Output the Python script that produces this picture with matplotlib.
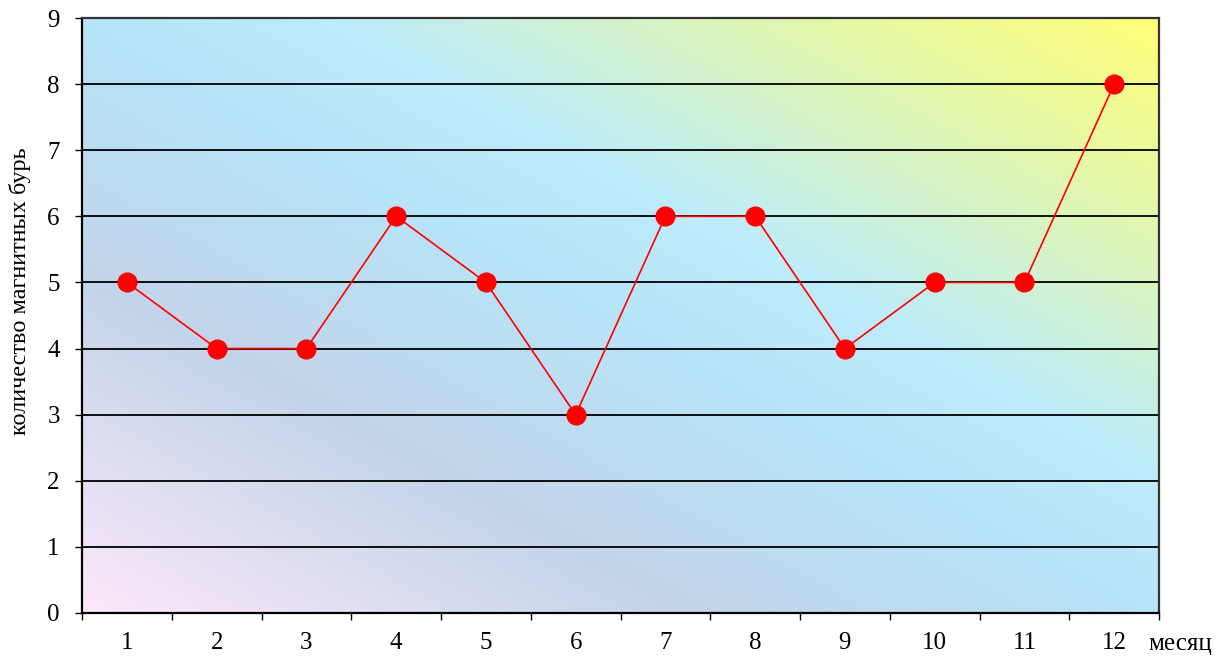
import numpy as np
import matplotlib
matplotlib.use("Agg")
import matplotlib.pyplot as plt
from matplotlib.colors import LinearSegmentedColormap

months = [1, 2, 3, 4, 5, 6, 7, 8, 9, 10, 11, 12]
storms = [5, 4, 4, 6, 5, 3, 6, 6, 4, 5, 5, 8]
y_ticks = list(range(0, 10))
x_label = "месяц"
y_label = "количество магнитных бурь"

plt.rcParams['font.family'] = ['Liberation Serif', 'DejaVu Serif']

fig = plt.figure(figsize=(12.26, 6.57), dpi=100)
ax = fig.add_axes([0.0669, 0.067, 0.8785, 0.9056])

# diagonal gradient background from lower-left to upper-right
grad_cmap = LinearSegmentedColormap.from_list(
    "bg",
    [(0.0, "#fbe8f8"), (0.28, "#c3d4ea"), (0.5, "#b7e4f7"),
     (0.62, "#beecfa"), (0.85, "#e6f8a6"), (1.0, "#fffe78")])
u = np.linspace(0, 1, 400)
v = np.linspace(0, 1, 300)
U, V = np.meshgrid(u, v)
T = (U + V) / 2
ax.imshow(T, cmap=grad_cmap, vmin=0, vmax=1, origin="lower",
          extent=[0, 1, 0, 1], transform=ax.transAxes, aspect="auto",
          zorder=0, interpolation="bilinear")

ax.set_xlim(0.5, 12.5)
ax.set_ylim(0, 9)

for yv in y_ticks[1:-1]:
    ax.axhline(yv, color="black", linewidth=1.3, zorder=1)

ax.plot(months, storms, color="#ff0000", linewidth=1.2, marker="o",
        markersize=13.5, markerfacecolor="#ff0000", markeredgecolor="#ff0000",
        zorder=3)

ax.set_yticks(y_ticks)
ax.set_yticklabels([str(t) for t in y_ticks], fontsize=18)
ax.set_xticks(np.arange(0.5, 13.0, 1.0))
ax.set_xticklabels([])
ax.set_xticks(months, minor=True)
ax.set_xticklabels([str(m) for m in months], minor=True, fontsize=18)
ax.tick_params(axis="y", direction="out", length=5, width=1, pad=11)
ax.tick_params(axis="x", which="major", direction="out", length=5, width=1)
ax.tick_params(axis="x", which="minor", length=0, pad=14)

for side in ["left", "bottom"]:
    ax.spines[side].set_linewidth(1.6)
    ax.spines[side].set_color("black")
for side in ["top", "right"]:
    ax.spines[side].set_linewidth(1.6)
    ax.spines[side].set_color("#333333")

ax.set_ylabel(y_label, fontsize=17.5)
ax.yaxis.set_label_coords(-0.047, 0.541)
fig.text(1180 / 1226, 1 - 650 / 657, x_label, fontsize=18,
         ha="center", va="baseline")

fig.savefig("out.png", dpi=100)
